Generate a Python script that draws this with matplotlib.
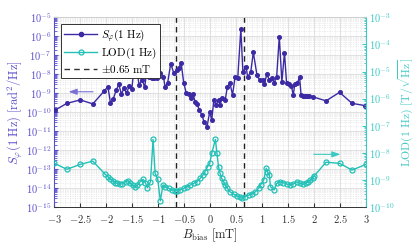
import numpy as np
import matplotlib
matplotlib.use("Agg")
import matplotlib.pyplot as plt
from matplotlib.ticker import FixedLocator, FuncFormatter, LogLocator, NullFormatter
from matplotlib.lines import Line2D

plt.rcParams['mathtext.fontset'] = 'cm'
plt.rcParams['font.family'] = ['DejaVu Serif']

# S_phi(1 Hz) data: B_bias [mT], log10(S_phi)
s_x = [-2.98, -2.76, -2.50, -2.26, -2.04, -1.97, -1.92, -1.87, -1.81, -1.76, -1.71, -1.66,
       -1.61, -1.56, -1.51, -1.47, -1.41, -1.37, -1.31, -1.26, -1.22, -1.18, -1.13, -1.08,
       -1.03, -0.96, -0.90, -0.87, -0.82, -0.76, -0.70, -0.64, -0.60, -0.56, -0.51, -0.46,
       -0.41, -0.37, -0.33, -0.29, -0.25, -0.21, -0.16, -0.12, -0.06, -0.01, 0.03, 0.07,
       0.11, 0.16, 0.19, 0.22, 0.29, 0.33, 0.38, 0.43, 0.48, 0.53, 0.59, 0.63, 0.69, 0.72,
       0.78, 0.83, 0.90, 0.95, 1.01, 1.04, 1.09, 1.14, 1.19, 1.23, 1.28, 1.33, 1.38, 1.43,
       1.47, 1.52, 1.56, 1.60, 1.63, 1.68, 1.72, 1.75, 1.79, 1.83, 1.87, 1.91, 1.97, 2.23,
       2.49, 2.73, 2.98]
s_log = [-9.88, -9.53, -9.35, -9.56, -8.88, -8.65, -9.50, -9.32, -8.85, -8.53, -9.04, -8.74,
         -9.00, -8.62, -8.80, -7.77, -7.77, -8.56, -8.30, -8.68, -7.74, -8.16, -8.20, -8.21,
         -8.21, -7.95, -8.12, -8.65, -8.47, -7.44, -7.95, -7.80, -7.65, -7.39, -8.45, -9.00,
         -9.02, -9.26, -9.05, -9.45, -9.58, -9.88, -10.14, -10.49, -10.76, -9.97, -10.41, -9.35,
         -9.62, -9.35, -9.62, -9.26, -9.35, -8.65, -8.47, -9.09, -8.12, -8.21, -5.62, -7.90,
         -7.60, -8.12, -7.90, -6.84, -8.04, -8.30, -8.30, -8.53, -8.00, -8.30, -8.18, -8.47,
         -8.12, -6.02, -8.40, -6.86, -8.47, -8.50, -8.60, -9.09, -8.50, -8.48, -8.12, -9.10,
         -9.12, -9.15, -9.15, -9.15, -9.18, -9.40, -8.95, -9.53, -9.65]

# LOD(1 Hz) data: B_bias [mT], log10(LOD)
l_x = [-3.00, -2.76, -2.50, -2.26, -2.02, -1.97, -1.92, -1.87, -1.83, -1.79, -1.74, -1.70,
       -1.63, -1.59, -1.54, -1.49, -1.44, -1.40, -1.35, -1.29, -1.25, -1.21, -1.15, -1.10,
       -1.06, -1.01, -0.96, -0.91, -0.865, -0.80, -0.74, -0.67, -0.63, -0.58, -0.51, -0.45,
       -0.38, -0.32, -0.26, -0.19, -0.14, -0.10, -0.05, -0.01, 0.03, 0.10, 0.13, 0.16, 0.19,
       0.22, 0.26, 0.29, 0.33, 0.38, 0.45, 0.51, 0.58, 0.61, 0.67, 0.74, 0.80, 0.87, 0.93,
       0.97, 1.03, 1.08, 1.10, 1.14, 1.16, 1.23, 1.28, 1.35, 1.41, 1.47, 1.54, 1.60, 1.67,
       1.73, 1.78, 1.84, 1.88, 1.93, 1.97, 2.00, 2.23, 2.49, 2.73, 3.00]
l_log = [-8.38, -8.60, -8.42, -8.30, -8.79, -8.87, -8.97, -9.02, -9.09, -9.12, -9.14, -9.14,
         -9.06, -9.02, -9.12, -9.18, -9.24, -9.18, -9.06, -8.97, -9.09, -9.28, -9.06, -7.50,
         -8.75, -8.97, -9.76, -9.18, -9.24, -9.30, -9.36, -9.39, -9.40, -9.36, -9.30, -9.24,
         -9.18, -9.12, -9.06, -8.93, -8.81, -8.69, -8.50, -8.38, -8.01, -7.50, -8.01, -8.50,
         -8.75, -8.93, -9.06, -9.18, -9.30, -9.43, -9.51, -9.58, -9.63, -9.67, -9.61, -9.55,
         -9.51, -9.43, -9.30, -9.18, -9.00, -8.56, -8.69, -8.81, -9.24, -9.36, -9.12, -9.06,
         -9.09, -9.14, -9.18, -9.14, -9.06, -9.12, -9.15, -9.12, -9.08, -9.00, -8.93, -8.85,
         -8.34, -8.38, -8.63, -8.42]

vlines = [-0.65, 0.65]
x_ticks = [-3, -2.5, -2, -1.5, -1, -0.5, 0, 0.5, 1, 1.5, 2, 2.5, 3]
x_ticklabels = ['-3', '-2.5', '-2', '-1.5', '-1', '-0.5', '0', '0.5', '1', '1.5', '2', '2.5', '3']
left_decades = list(range(-15, -4))
right_decades = list(range(-10, -2))

purple = '#3b2aa3'
purple_lt = '#5a4fcb'
cyan = '#22c0b6'
cyan_lt = '#3cc9c3'

fig = plt.figure(figsize=(4.15, 2.43), dpi=100)
ax = fig.add_axes([0.131, 0.147, 0.751, 0.782])
ax2 = ax.twinx()

ax.set_yscale('log')
ax2.set_yscale('log')
ax.set_xlim(-3, 3)
ax.set_ylim(1e-15, 1e-5)
ax2.set_ylim(1e-10, 1e-3)

# grid
ax.set_axisbelow(True)
ax.xaxis.set_major_locator(FixedLocator(x_ticks))
ax.xaxis.set_minor_locator(FixedLocator(np.arange(-3, 3.001, 0.1)))
ax.yaxis.set_major_locator(FixedLocator([10.0**d for d in left_decades]))
ax.yaxis.set_minor_locator(LogLocator(base=10, subs=np.arange(2, 10), numticks=100))
ax.yaxis.set_minor_formatter(NullFormatter())
ax.grid(which='major', color='#dcdcdc', lw=0.6, ls='-')
ax.grid(which='minor', color='#dedede', lw=0.5, ls=(0, (1, 1.5)))

ax.set_xticklabels(['$%s$' % t for t in x_ticklabels])
ax.yaxis.set_major_formatter(FuncFormatter(lambda v, p: r'$10^{%d}$' % int(round(np.log10(v)))))

ax2.yaxis.set_major_locator(FixedLocator([10.0**d for d in right_decades]))
ax2.yaxis.set_minor_locator(LogLocator(base=10, subs=np.arange(2, 10), numticks=100))
ax2.yaxis.set_minor_formatter(NullFormatter())
ax2.yaxis.set_major_formatter(FuncFormatter(lambda v, p: r'$10^{%d}$' % int(round(np.log10(v)))))

# data
ln1, = ax.plot(s_x, [10.0**v for v in s_log], '-o', color=purple, lw=1.0, ms=2.6,
               mfc=purple, mec=purple, zorder=3)
for v in vlines:
    ax.axvline(v, color='#222222', ls=(0, (4, 3)), lw=1.0, zorder=2)
ln2, = ax2.plot(l_x, [10.0**v for v in l_log], '-o', color=cyan, lw=1.0, ms=3.6,
                mfc='none', mec=cyan, mew=0.9, zorder=3)

# arrows
ax.annotate('', xy=(-2.78, 10**-8.92), xytext=(-2.2, 10**-8.92),
            arrowprops=dict(arrowstyle='-|>,head_length=0.5,head_width=0.18',
                            color='#7a70d6', lw=0.8))
ax2.annotate('', xy=(2.56, 10**-8.05), xytext=(1.94, 10**-8.05),
             arrowprops=dict(arrowstyle='-|>,head_length=0.5,head_width=0.18',
                             color=cyan_lt, lw=0.8))

# ticks & spines
ax.tick_params(axis='x', which='both', direction='in', top=False, labelsize=7.5,
               colors='#333333', pad=4)
ax.tick_params(axis='x', which='major', length=3)
ax.tick_params(axis='x', which='minor', length=0)
ax.tick_params(axis='y', which='major', direction='in', length=3, color=purple_lt,
               labelcolor=purple_lt, labelsize=7.5, pad=2)
ax.tick_params(axis='y', which='minor', direction='in', length=1.8, color=purple_lt)
ax2.tick_params(axis='y', which='major', direction='in', length=3, color=cyan_lt,
                labelcolor=cyan_lt, labelsize=7.5, pad=2)
ax2.tick_params(axis='y', which='minor', direction='in', length=1.8, color=cyan_lt)

for a in (ax, ax2):
    a.spines['top'].set_color('#cfcfcf')
    a.spines['top'].set_linewidth(0.6)
    a.spines['bottom'].set_color('#333333')
    a.spines['bottom'].set_linewidth(0.6)
ax.spines['left'].set_color(purple_lt)
ax.spines['left'].set_linewidth(0.8)
ax.spines['right'].set_visible(False)
ax2.spines['left'].set_visible(False)
ax2.spines['right'].set_color(cyan_lt)
ax2.spines['right'].set_linewidth(0.8)

ax.set_xlabel(r'$B_{\mathrm{bias}}\ [\mathrm{mT}]$', fontsize=9, color='#222222', labelpad=1)
ax.set_ylabel(r'$S_\varphi(1\ \mathrm{Hz})\ [\mathrm{rad}^2/\mathrm{Hz}]$', fontsize=9,
              color=purple_lt, labelpad=1)
ax2.set_ylabel(r'$\mathrm{LOD}(1\ \mathrm{Hz})\ [\mathrm{T}/\sqrt{\mathrm{Hz}}]$', fontsize=8.5,
               color=cyan_lt, labelpad=1)

leg_handles = [Line2D([], [], color=purple, lw=1.0, marker='o', ms=3, mfc=purple),
               Line2D([], [], color=cyan, lw=1.0, marker='o', ms=3.6, mfc='none', mew=0.9),
               Line2D([], [], color='#333333', lw=1.0, ls=(0, (4, 3)))]
leg_labels = [r'$S_\varphi(1\ \mathrm{Hz})$', r'$\mathrm{LOD}(1\ \mathrm{Hz})$',
              r'$\pm0.65\ \mathrm{mT}$']
leg = ax2.legend(leg_handles, leg_labels, loc='upper left', bbox_to_anchor=(0.02, 0.965),
                 borderaxespad=0, fontsize=8, frameon=True, fancybox=False,
                 edgecolor='#333333', framealpha=1, handlelength=3.0, handletextpad=0.3,
                 labelspacing=0.15, borderpad=0.3)
leg.get_frame().set_linewidth(0.7)

fig.savefig('out.png', dpi=100)
